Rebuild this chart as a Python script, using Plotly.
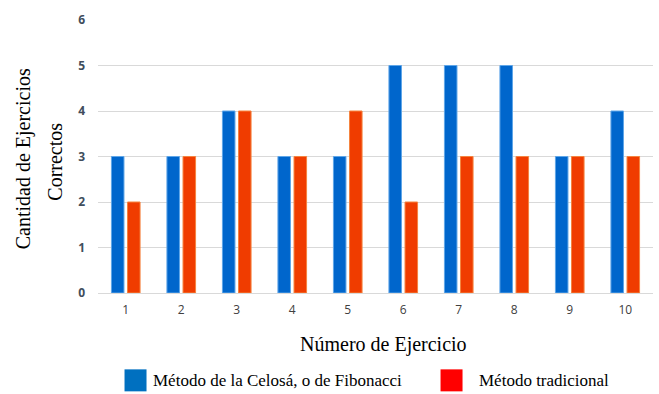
import plotly.graph_objects as go

# Exercise numbers and number of correct exercises per method
ejercicios = ["1", "2", "3", "4", "5", "6", "7", "8", "9", "10"]
celosa = [3, 3, 4, 3, 3, 5, 5, 5, 3, 4]
tradicional = [2, 3, 4, 3, 4, 2, 3, 3, 3, 3]

nombre_celosa = "Método de la Celosá, o de Fibonacci"
nombre_tradicional = "Método tradicional"

serif = "Liberation Serif, Times New Roman, serif"

fig = go.Figure()
fig.add_trace(go.Bar(
    x=ejercicios, y=celosa, name=nombre_celosa,
    marker=dict(color="#0066CC", line=dict(color="#5FA6E8", width=1)),
    showlegend=False,
))
fig.add_trace(go.Bar(
    x=ejercicios, y=tradicional, name=nombre_tradicional,
    marker=dict(color="#F03C00", line=dict(color="#F5843F", width=1)),
    showlegend=False,
))

# Legend drawn below the chart: coloured squares plus serif labels
legend_y = -0.32
items = [(0.0676, 0.0955, "#0070C0", nombre_celosa),
         (0.637, 0.683, "#FF0000", nombre_tradicional)]
shapes = []
annotations = []
for sx, tx, col, label in items:
    shapes.append(dict(
        type="rect", xref="paper", yref="paper",
        xsizemode="pixel", ysizemode="pixel",
        xanchor=sx, yanchor=legend_y,
        x0=-11, x1=11, y0=-11, y1=11,
        fillcolor=col, line=dict(width=0),
    ))
    annotations.append(dict(
        x=tx, y=legend_y, xref="paper", yref="paper",
        xanchor="left", yanchor="middle", showarrow=False,
        text=label, font=dict(family=serif, size=17, color="#000000"),
    ))

# Axis titles
annotations.append(dict(
    x=0.514, y=-0.188, xref="paper", yref="paper",
    xanchor="center", yanchor="middle", showarrow=False,
    text="Número de Ejercicio", font=dict(family=serif, size=20, color="#000000"),
))
annotations.append(dict(
    x=-0.135, y=0.49, xref="paper", yref="paper",
    xanchor="center", yanchor="middle", showarrow=False, textangle=-90,
    text="Cantidad de Ejercicios", font=dict(family=serif, size=20, color="#000000"),
))
annotations.append(dict(
    x=-0.078, y=0.48, xref="paper", yref="paper",
    xanchor="center", yanchor="middle", showarrow=False, textangle=-90,
    text="Correctos", font=dict(family=serif, size=20, color="#000000"),
))

fig.update_layout(
    width=659, height=394,
    margin=dict(l=98, r=6, t=20, b=101),
    paper_bgcolor="white", plot_bgcolor="white",
    barmode="group", bargap=0.42, bargroupgap=0.22,
    shapes=shapes, annotations=annotations,
    xaxis=dict(
        showgrid=False, showline=False, zeroline=False,
        ticks="", ticklabelstandoff=8,
        tickfont=dict(family="Open Sans, sans-serif", size=12, color="#404040"),
    ),
    yaxis=dict(
        range=[0, 6], dtick=1, showgrid=True, gridcolor="#D9D9D9", gridwidth=1,
        zeroline=True, zerolinecolor="#D9D9D9", zerolinewidth=1,
        showline=False, ticks="", ticklabelstandoff=12,
        tickfont=dict(family="Open Sans, sans-serif", size=12, color="#404D5C", weight="bold"),
    ),
)

fig.write_html("out.html")
